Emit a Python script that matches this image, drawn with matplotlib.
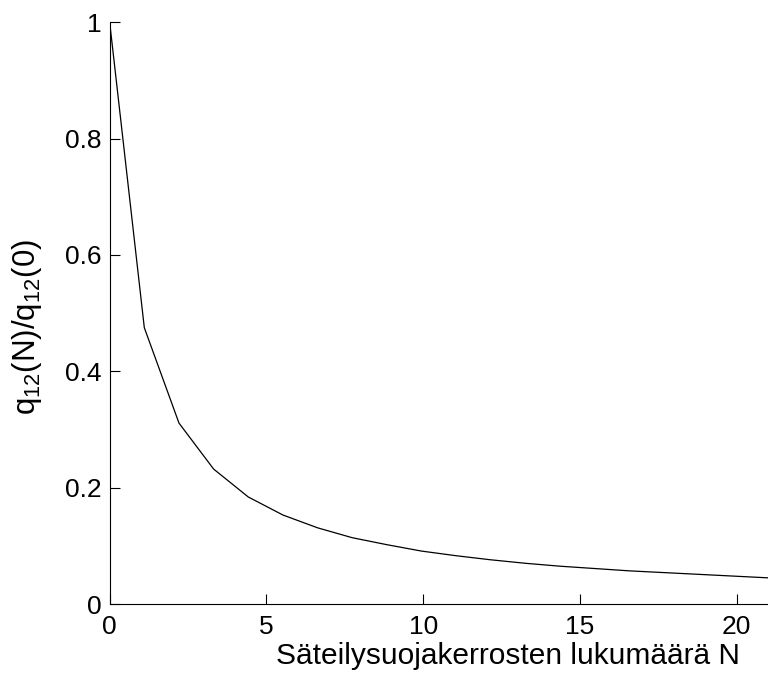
import matplotlib
matplotlib.use("Agg")
import matplotlib.pyplot as plt
from matplotlib.ticker import FuncFormatter

# Data
N = [0.0, 1.105, 2.211, 3.316, 4.421, 5.526, 6.632, 7.737, 8.842, 9.947,
     11.053, 12.158, 13.263, 14.368, 15.474, 16.579, 17.684, 18.789, 19.895, 21.0]
q_ratio = [1.0, 0.475, 0.311, 0.232, 0.184, 0.153, 0.131, 0.114, 0.102, 0.091,
           0.083, 0.076, 0.070, 0.065, 0.061, 0.057, 0.054, 0.051, 0.048, 0.045]

x_ticks = [0, 5, 10, 15, 20]
y_ticks = [0, 0.2, 0.4, 0.6, 0.8, 1.0]

plt.rcParams["font.family"] = ["Liberation Sans", "DejaVu Sans"]
plt.rcParams["mathtext.fontset"] = "custom"
plt.rcParams["mathtext.rm"] = "Liberation Sans"
plt.rcParams["mathtext.it"] = "Liberation Sans"

fig = plt.figure(figsize=(7.68, 6.73), dpi=100)
ax = fig.add_axes([0.1428, 0.1025, 0.8572, 0.8644])

ax.plot(N, q_ratio, color="black", linewidth=0.9)

ax.set_xlim(0, 21)
ax.set_ylim(0, 1)
ax.set_xticks(x_ticks)
ax.set_yticks(y_ticks)
ax.yaxis.set_major_formatter(FuncFormatter(lambda v, p: f"{v:g}"))

ax.spines["top"].set_visible(False)
ax.spines["right"].set_visible(False)
ax.tick_params(axis="both", direction="in", length=7, width=0.8, labelsize=19)
ax.tick_params(axis="x", pad=8)
ax.tick_params(axis="y", pad=6)

# the original axes runs past the right edge, so the x label sits right of centre
ax.set_xlabel("Säteilysuojakerrosten lukumäärä N", fontsize=21.5)
ax.xaxis.label.set_va("center")
ax.xaxis.set_label_coords(0.605, -0.089)

ax.set_ylabel(r"q$_{12}$(N)/q$_{12}$(0)", fontsize=22.5)
ax.yaxis.label.set_va("center")
ax.yaxis.set_label_coords(-0.125, 0.476)

fig.savefig("out.png", dpi=100)
